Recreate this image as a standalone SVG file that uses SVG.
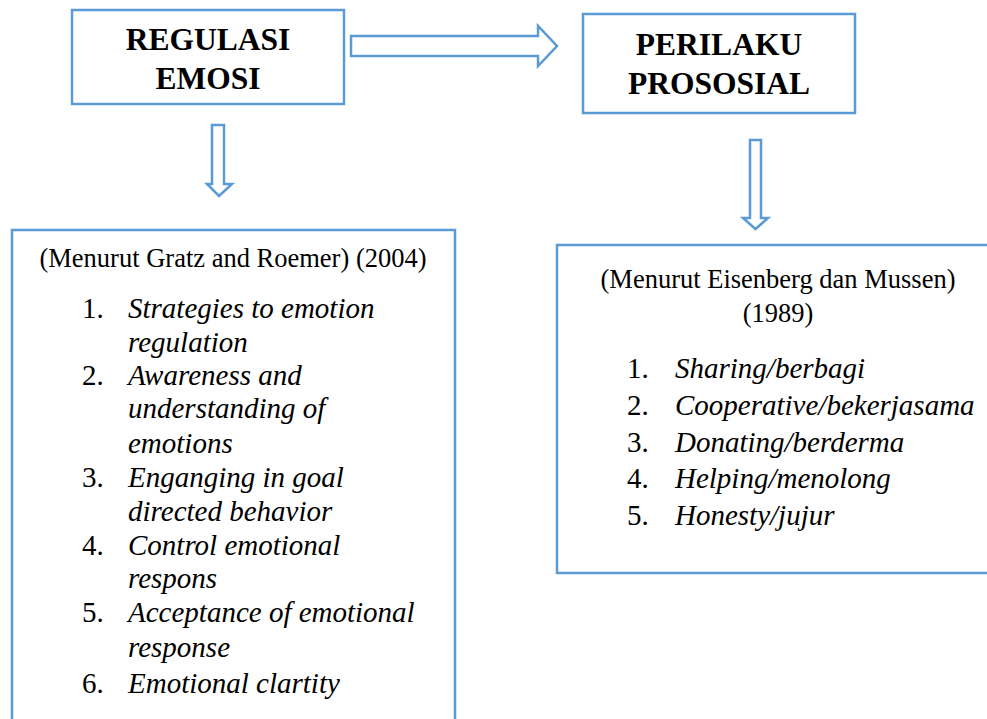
<svg xmlns="http://www.w3.org/2000/svg" width="987" height="719" viewBox="0 0 987 719">
<style>
.box{fill:#fff;stroke:#5B9BD5;stroke-width:2.5}
.arr{fill:#fff;stroke:#5B9BD5;stroke-width:2.5;stroke-linejoin:miter}
text{font-family:'Liberation Serif','Tinos','DejaVu Serif',serif;fill:#000}
.title{font-size:31.5px;font-weight:bold;text-anchor:middle}
.hd{font-size:26.5px;text-anchor:middle}
.li{font-size:29px}
.it{font-style:italic}
</style>
<rect width="987" height="719" fill="#fff"/>
<g id="connectors">
<path class="arr" d="M351,36 H538 V26 L557,46 L538,66 V56 H351 Z"/>
<path class="arr" d="M212,125 H224 V184 H232 L219,196 L207,184 H212 Z"/>
<path class="arr" d="M750,140 H761 V218 H768 L755.5,229 L743,218 H750 Z"/>
</g>
<g id="regulasi-emosi">
<rect class="box" x="72" y="10" width="272" height="94"/>
<text class="title" x="208" y="50" font-family="Liberation Serif, serif">REGULASI</text>
<text class="title" x="208" y="89" font-family="Liberation Serif, serif">EMOSI</text>
</g>
<g id="perilaku-prososial">
<rect class="box" x="583" y="14" width="272" height="99"/>
<text class="title" x="719" y="55">PERILAKU</text>
<text class="title" x="719" y="94">PROSOSIAL</text>
</g>
<g id="gratz-roemer">
<rect class="box" x="12" y="230" width="443" height="500"/>
<text class="hd" x="233" y="267">(Menurut Gratz and Roemer) (2004)</text>
<g class="li">
<text x="82" y="318">1.</text><text class="it" x="128" y="318">Strategies to emotion</text>
<text class="it" x="128" y="352">regulation</text>
<text x="82" y="385">2.</text><text class="it" x="128" y="385">Awareness and</text>
<text class="it" x="128" y="418">understanding of</text>
<text class="it" x="128" y="453">emotions</text>
<text x="82" y="487">3.</text><text class="it" x="128" y="487">Enganging in goal</text>
<text class="it" x="128" y="521">directed behavior</text>
<text x="82" y="555">4.</text><text class="it" x="128" y="555">Control emotional</text>
<text class="it" x="128" y="588">respons</text>
<text x="82" y="622">5.</text><text class="it" x="128" y="622">Acceptance of emotional</text>
<text class="it" x="128" y="657">response</text>
<text x="82" y="693">6.</text><text class="it" x="128" y="693">Emotional clartity</text>
</g>
</g>
<g id="eisenberg-mussen">
<rect class="box" x="557" y="245" width="440" height="328"/>
<text class="hd" x="778" y="288">(Menurut Eisenberg dan Mussen)</text>
<text class="hd" x="778" y="322">(1989)</text>
<g class="li">
<text x="627" y="378">1.</text><text class="it" x="675" y="378">Sharing/berbagi</text>
<text x="627" y="415">2.</text><text class="it" x="675" y="415">Cooperative/bekerjasama</text>
<text x="627" y="452">3.</text><text class="it" x="675" y="452">Donating/berderma</text>
<text x="627" y="488">4.</text><text class="it" x="675" y="488">Helping/menolong</text>
<text x="627" y="525">5.</text><text class="it" x="675" y="525">Honesty/jujur</text>
</g>
</g>
</svg>
